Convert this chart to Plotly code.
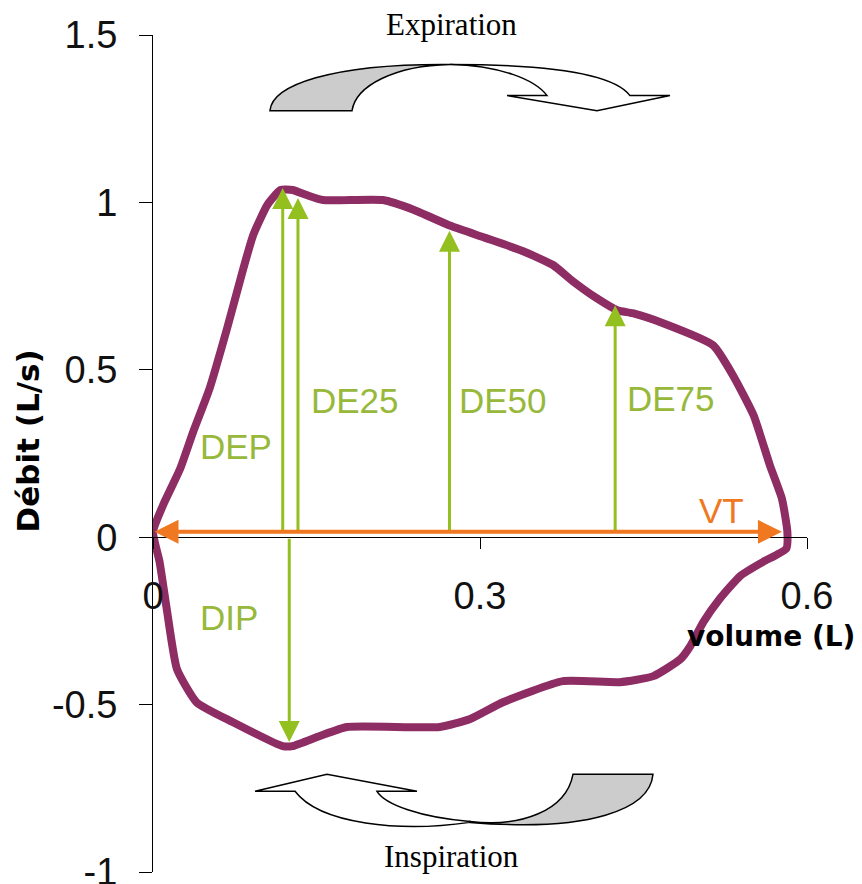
import plotly.graph_objects as go

# flow-volume loop (volume in L, flow in L/s)
volume = [0, 0.009, 0.025, 0.037, 0.052, 0.068, 0.083, 0.092, 0.105, 0.117,
          0.128, 0.141, 0.156, 0.211, 0.239, 0.273, 0.305, 0.339, 0.367, 0.385,
          0.407, 0.426, 0.440, 0.468, 0.514, 0.532, 0.551, 0.566, 0.577, 0.582,
          0.581, 0.560, 0.539, 0.520, 0.505, 0.493, 0.484, 0.459, 0.428, 0.376,
          0.321, 0.291, 0.263, 0.178, 0.153, 0.128, 0.119, 0.073, 0.040, 0.022,
          0.013, 0.006, 0]
flow = [0.016, 0.094, 0.205, 0.316, 0.445, 0.624, 0.804, 0.903, 0.993, 1.037,
        1.037, 1.022, 1.007, 1.007, 0.978, 0.930, 0.894, 0.855, 0.813, 0.765,
        0.714, 0.678, 0.669, 0.639, 0.573, 0.484, 0.364, 0.214, 0.115, 0.016,
        -0.034, -0.073, -0.115, -0.184, -0.253, -0.325, -0.364, -0.415, -0.433, -0.430,
        -0.493, -0.543, -0.567, -0.567, -0.594, -0.624, -0.624, -0.552, -0.493, -0.394,
        -0.223, -0.073, 0.016]

# measured flows: label, volume, flow at arrow tip
up_labels = ["DEP", "DE25", "DE50", "DE75"]
up_volume = [0.119, 0.133, 0.272, 0.424]
up_flow = [1.043, 1.013, 0.915, 0.693]
dip_volume = 0.125
dip_flow = -0.612
vt_volume = 0.577

xticks = [0, 0.3, 0.6]
xtick_text = ["0", "0.3", "0.6"]
yticks = [-1, -0.5, 0, 0.5, 1, 1.5]
ytick_text = ["-1", "-0.5", "0", "0.5", "1", "1.5"]

PURPLE = "#8E2C64"
GREEN = "#93C01F"
GREEN_TXT = "#97B83A"
ORANGE = "#F07820"

fig = go.Figure()
fig.add_trace(go.Scatter(x=volume, y=flow, mode="lines",
                         line=dict(color=PURPLE, width=8, shape="spline", smoothing=0.5),
                         hoverinfo="skip", showlegend=False))

ann = []
base = 0.016
for lab, vx, fy in zip(up_labels, up_volume, up_flow):
    ann.append(dict(x=vx, y=fy, ax=vx, ay=base, xref="x", yref="y", axref="x", ayref="y",
                    text="", showarrow=True, arrowhead=2, arrowsize=1.4, arrowwidth=3,
                    arrowcolor=GREEN, standoff=0))
ann.append(dict(x=dip_volume, y=dip_flow, ax=dip_volume, ay=0.0, xref="x", yref="y",
                axref="x", ayref="y", text="", showarrow=True, arrowhead=2, arrowsize=1.4,
                arrowwidth=3, arrowcolor=GREEN, standoff=0))
ann.append(dict(x=vt_volume, y=base, ax=0.0, ay=base, xref="x", yref="y", axref="x", ayref="y",
                text="", showarrow=True, arrowhead=2, arrowside="end+start", arrowsize=1.2,
                arrowwidth=4, arrowcolor=ORANGE, standoff=0, startstandoff=0))

label_font = dict(family="Liberation Sans, Arial", size=35, color=GREEN_TXT)
label_pos = {"DEP": (0.076, 0.271), "DE25": (0.185, 0.409), "DE50": (0.321, 0.409),
             "DE75": (0.475, 0.415), "DIP": (0.070, -0.241)}
for lab, (lx, ly) in label_pos.items():
    ann.append(dict(x=lx, y=ly, xref="x", yref="y", text=lab, showarrow=False, font=label_font))
ann.append(dict(x=0.522, y=0.079, xref="x", yref="y", text="VT", showarrow=False,
                font=dict(family="Liberation Sans, Arial", size=35, color=ORANGE)))

# texts outside the axis ranges go in paper coordinates
ann.append(dict(x=1.0 + 50 / 654, y=(1 - 0.298) / 2.5, xref="paper", yref="paper",
                text="volume (L)", showarrow=False, xanchor="right", yanchor="middle",
                font=dict(family="DejaVu Sans", size=28, color="black", weight="bold")))
ann.append(dict(x=-125 / 654, y=(1 + 0.286) / 2.5, xref="paper", yref="paper",
                text="Débit (L/s)", showarrow=False, textangle=-90,
                xanchor="center", yanchor="middle",
                font=dict(family="DejaVu Sans", size=31, color="black", weight="bold")))
ann.append(dict(x=0.274 / 0.6, y=(1 + 1.530) / 2.5, xref="paper", yref="paper",
                text="Expiration", showarrow=False, xanchor="center", yanchor="middle",
                font=dict(family="Liberation Serif, Times New Roman", size=31, color="black")))
ann.append(dict(x=0.274 / 0.6, y=(1 - 0.954) / 2.5, xref="paper", yref="paper",
                text="Inspiration", showarrow=False, xanchor="center", yanchor="middle",
                font=dict(family="Liberation Serif, Times New Roman", size=31, color="black")))


def path(cmds):
    return " ".join(cmds)


# twisted ribbon arrows (decoration)
top_grey = path(["M 0.1073,1.274", "C 0.1092,1.349 0.1624,1.415 0.2725,1.412",
                 "C 0.2220,1.409 0.1862,1.349 0.1826,1.274", "Z"])
top_white = path(["M 0.2725,1.412", "C 0.3183,1.409 0.3505,1.367 0.3615,1.319",
                  "L 0.3248,1.319", "L 0.4073,1.274", "L 0.4743,1.319", "L 0.4376,1.319",
                  "C 0.4239,1.379 0.3734,1.412 0.2725,1.412", "Z"])
bot_white = path(["M 0.2908,-0.8488", "C 0.2450,-0.8368 0.2128,-0.7979 0.2055,-0.7590",
                  "L 0.2422,-0.7590", "L 0.1596,-0.7081", "L 0.0936,-0.7590", "L 0.1303,-0.7590",
                  "C 0.1532,-0.8578 0.2266,-0.8817 0.2908,-0.8518", "Z"])
bot_grey = path(["M 0.2908,-0.8518", "C 0.4009,-0.8817 0.4560,-0.8129 0.4587,-0.7081",
                 "L 0.3853,-0.7081", "C 0.3789,-0.8189 0.3367,-0.8668 0.2908,-0.8488", "Z"])

shapes = []
for p, fillc in [(top_grey, "#CCCCCC"), (top_white, "white"), (bot_white, "white"), (bot_grey, "#CCCCCC")]:
    shapes.append(dict(type="path", path=p, xref="x", yref="y", fillcolor=fillc,
                       line=dict(color="black", width=1.5), layer="above"))

# the page body adds an 8px offset, so the margins are shifted to compensate
tick_font = dict(family="Liberation Sans, Arial", size=38, color="#111111")
fig.update_layout(
    width=862, height=884,
    margin=dict(l=145, r=63, t=27, b=20, autoexpand=False),
    paper_bgcolor="white", plot_bgcolor="white",
    showlegend=False,
    annotations=ann,
    shapes=shapes,
    xaxis=dict(range=[0, 0.6], anchor="free", position=0.4, showline=True, linecolor="black",
               linewidth=1, ticks="outside", ticklen=11, tickcolor="black", tickvals=xticks,
               ticktext=xtick_text, tickfont=tick_font, showgrid=False, zeroline=False,
               ticklabelstandoff=14, automargin=False, ticklabeloverflow="allow"),
    yaxis=dict(range=[-1, 1.5], showline=True, linecolor="black", linewidth=1,
               ticks="outside", ticklen=13, tickcolor="black", tickvals=yticks,
               ticktext=ytick_text, tickfont=tick_font, showgrid=False, zeroline=False,
               ticklabelstandoff=14, automargin=False, ticklabeloverflow="allow"),
)

fig.write_html("out.html")
